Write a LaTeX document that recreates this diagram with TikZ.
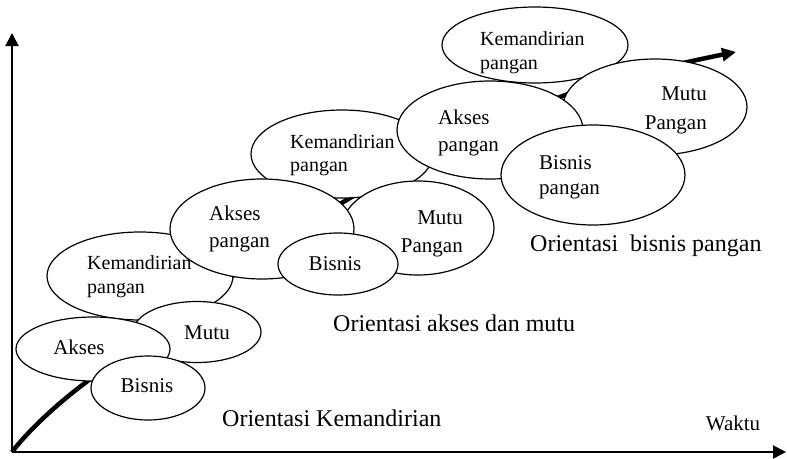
\documentclass[tikz,border=0pt]{standalone}
\usepackage{fontspec}
\setmainfont{Liberation Serif}
\usetikzlibrary{arrows.meta,shapes.geometric}
\begin{document}
\begin{tikzpicture}[x=1pt,y=-1pt,
  oval/.style={draw, fill=white, ellipse, inner sep=0pt, line width=1.2pt},
  lbl/.style={font=\fontsize{21}{25}\selectfont, inner sep=0pt},
  klbl/.style={font=\fontsize{20}{24}\selectfont, inner sep=0pt},
  olbl/.style={font=\fontsize{24}{28}\selectfont, inner sep=0pt},
  axis/.style={line width=2pt, -{Triangle[length=13pt,width=13pt]}},
  trend/.style={line width=4.5pt, -{Triangle[length=14pt,width=13pt]}}
]
\useasboundingbox (0,0) rectangle (787,458);
% axes
\coordinate (o) at (12,452);
\coordinate (ytip) at (12,33);
\coordinate (xtip) at (786,452);
\draw[axis] (o) -- (ytip);
\draw[axis] (o) -- (xtip);
% trend line
\coordinate (t1) at (85,383);
\coordinate (t2) at (345,201);
\coordinate (t3) at (560,97);
\coordinate (t4) at (736,52);
\draw[trend] plot[smooth, tension=0.55] coordinates {(o) (t1) (t2) (t3) (t4)};
% lower cluster
\node[oval, minimum width=186pt, minimum height=88pt] (lowKem) at (140,276) {};
\node[oval, minimum width=128pt, minimum height=61pt] (lowMutu) at (197,332) {};
\node[oval, minimum width=154pt, minimum height=64pt] (lowAkses) at (93,349) {};
\node[oval, minimum width=114pt, minimum height=64pt] (lowBisnis) at (148,388) {};
% middle cluster
\node[oval, minimum width=182pt, minimum height=88pt] (midKem) at (342,154) {};
\node[oval, minimum width=152pt, minimum height=94pt] (midMutu) at (418,228) {};
\node[oval, minimum width=184pt, minimum height=100pt] (midAkses) at (262,229) {};
\node[oval, minimum width=120pt, minimum height=62pt] (midBisnis) at (338,264) {};
% top cluster
\node[oval, minimum width=186pt, minimum height=76pt] (topKem) at (535,45) {};
\node[oval, minimum width=184pt, minimum height=96pt] (topMutu) at (655,107) {};
\node[oval, minimum width=186pt, minimum height=98pt] (topAkses) at (490,130) {};
\node[oval, minimum width=184pt, minimum height=100pt] (topBisnis) at (593,175) {};
% labels lower
\node[klbl, anchor=base west] (lk1) at (87,269) {Kemandirian};
\node[klbl, anchor=base west] (lk2) at (87,293) {pangan};
\node[lbl, anchor=base] (lm) at (207,339) {Mutu};
\node[lbl, anchor=base] (la) at (79,354) {Akses};
\node[lbl, anchor=base] (lb) at (147,392) {Bisnis};
% labels middle
\node[klbl, anchor=base west] (mk1) at (290,148) {Kemandirian};
\node[klbl, anchor=base west] (mk2) at (290,171) {pangan};
\node[lbl, anchor=base west] (ma1) at (209,220) {Akses};
\node[lbl, anchor=base west] (ma2) at (209,247) {pangan};
\node[lbl, anchor=base east] (mm1) at (463,224) {Mutu};
\node[lbl, anchor=base east] (mm2) at (463,252) {Pangan};
\node[lbl, anchor=base] (mb) at (335,270) {Bisnis};
% labels top
\node[klbl, anchor=base west] (tk1) at (480,45) {Kemandirian};
\node[klbl, anchor=base west] (tk2) at (480,69) {pangan};
\node[lbl, anchor=base west] (ta1) at (438,124) {Akses};
\node[lbl, anchor=base west] (ta2) at (438,151) {pangan};
\node[lbl, anchor=base east] (tm1) at (707,100) {Mutu};
\node[lbl, anchor=base east] (tm2) at (707,129) {Pangan};
\node[lbl, anchor=base west] (tb1) at (539,169) {Bisnis};
\node[lbl, anchor=base west] (tb2) at (539,194) {pangan};
% orientation labels
\node[olbl, anchor=base west] (or1) at (222,426) {Orientasi Kemandirian};
\node[olbl, anchor=base west] (or2) at (333,331) {Orientasi akses dan mutu};
\node[olbl, anchor=base west] (or3) at (530,251) {Orientasi\ \ bisnis pangan};
\node[lbl, anchor=base] (wk) at (733,430) {Waktu};
\end{tikzpicture}
\end{document}
